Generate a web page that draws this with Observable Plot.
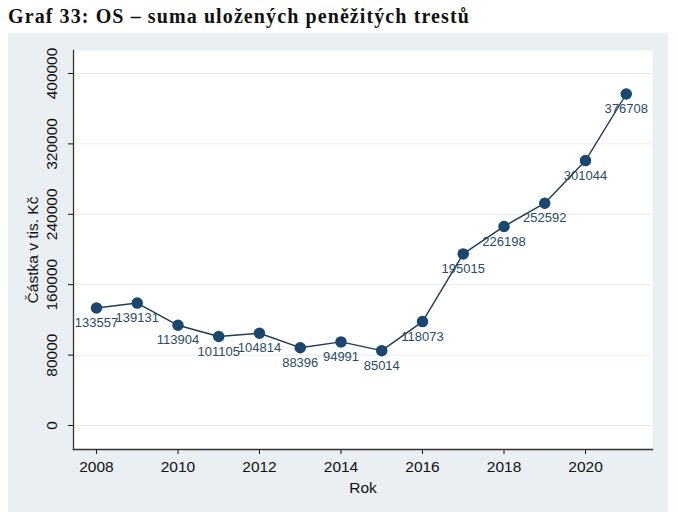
<!DOCTYPE html>
<html><head><meta charset="utf-8">
<script src="https://cdn.jsdelivr.net/npm/d3@7"></script>
<script src="https://cdn.jsdelivr.net/npm/@observablehq/plot@0.6"></script>
<style>
body{margin:0;background:#fff;width:678px;height:522px;position:relative;overflow:hidden;}
#title{position:absolute;left:8px;top:4px;font-family:"Liberation Serif",serif;font-weight:bold;font-size:20px;letter-spacing:1.1px;color:#111;white-space:nowrap;line-height:24px;}
#panel{position:absolute;left:8px;top:33px;width:660px;height:479px;background:#e9eff2;}
#chart{position:absolute;left:0;top:33px;}
</style></head>
<body>
<div id="title">Graf 33: OS – suma uložených peněžitých trestů</div>
<div id="panel"></div>
<div id="chart"></div>
<script>
const years = [2008,2009,2010,2011,2012,2013,2014,2015,2016,2017,2018,2019,2020,2021];
const values = [133557,139131,113904,101105,104814,88396,94991,85014,118073,195015,226198,252592,301044,376708];
const yTicks = [0,80000,160000,240000,320000,400000];
const xTicks = [2008,2010,2012,2014,2016,2018,2020];
const data = years.map((y,i)=>({year:y,value:values[i]}));
const navy = "#1a476f";
const chart = Plot.plot({
  width:678, height:489,
  marginTop:17, marginBottom:73, marginLeft:73, marginRight:26,
  style:{background:"transparent", fontFamily:"Liberation Sans, Arial, sans-serif", fontSize:"15px", color:"#111"},
  x:{domain:[2007.436,2021.644]},
  y:{domain:[-27273,426136]},
  marks:[
    Plot.frame({fill:"white", stroke:"none"}),
    Plot.gridY(yTicks,{stroke:"#e4ecef", strokeOpacity:1, strokeWidth:1}),
    Plot.axisY(yTicks,{tickRotate:-90, tickSize:5, tickPadding:12, label:"Částka v tis. Kč", labelAnchor:"center", labelOffset:47, labelArrow:"none", fontSize:15.5, tickFormat:d=>String(d)}),
    Plot.axisX(xTicks,{tickSize:5, tickPadding:6, label:"Rok", labelAnchor:"center", labelOffset:43, labelArrow:"none", fontSize:15.5, tickFormat:d=>String(d)}),
    Plot.frame({anchor:"left", stroke:"#333", strokeWidth:1.3}),
    Plot.frame({anchor:"bottom", stroke:"#333", strokeWidth:1.3}),
    Plot.line(data,{x:"year", y:"value", stroke:"#1e3a55", strokeWidth:1.4}),
    Plot.dot(data,{x:"year", y:"value", r:5, fill:navy, stroke:navy}),
    Plot.text(data,{x:"year", y:"value", text:d=>String(d.value), dy:15, fill:"#2a4a66", fontSize:13})
  ]
});
document.getElementById("chart").appendChild(chart);
</script>
</body></html>
